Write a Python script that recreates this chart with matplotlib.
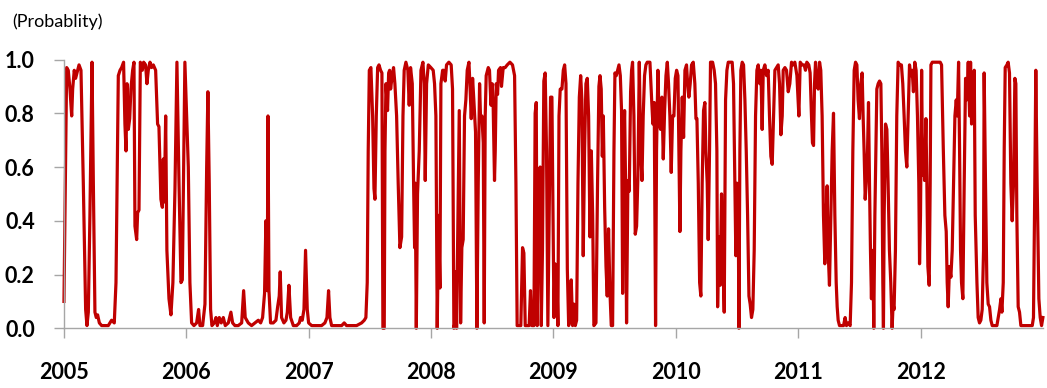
import numpy as np
import matplotlib.pyplot as plt

# ======================================
# DATA: (decimal year, probability), one list per year
# ======================================
y2005 = [(2005.000, 0.10), (2005.022, 0.97), (2005.035, 0.96), (2005.049, 0.89), (2005.063, 0.79),
         (2005.071, 0.89), (2005.084, 0.96), (2005.095, 0.93), (2005.106, 0.95), (2005.123, 0.98),
         (2005.139, 0.96), (2005.158, 0.54), (2005.177, 0.07), (2005.188, 0.01), (2005.199, 0.06),
         (2005.212, 0.42), (2005.229, 0.99), (2005.240, 0.54), (2005.253, 0.06), (2005.264, 0.04),
         (2005.275, 0.05), (2005.289, 0.02), (2005.308, 0.01), (2005.335, 0.01), (2005.362, 0.01),
         (2005.389, 0.03), (2005.411, 0.02), (2005.425, 0.17), (2005.444, 0.94), (2005.458, 0.96),
         (2005.471, 0.97), (2005.487, 0.99), (2005.498, 0.76), (2005.507, 0.66), (2005.515, 0.91),
         (2005.526, 0.74), (2005.537, 0.78), (2005.547, 0.89), (2005.561, 0.96), (2005.572, 0.99),
         (2005.580, 0.38), (2005.594, 0.33), (2005.602, 0.43), (2005.613, 0.44), (2005.624, 0.99),
         (2005.640, 0.96), (2005.651, 0.99), (2005.667, 0.98), (2005.678, 0.91), (2005.689, 0.96),
         (2005.703, 0.99), (2005.716, 0.97), (2005.730, 0.98), (2005.749, 0.96), (2005.765, 0.76),
         (2005.776, 0.75), (2005.792, 0.48), (2005.804, 0.45), (2005.812, 0.63), (2005.820, 0.47),
         (2005.831, 0.79), (2005.841, 0.29), (2005.858, 0.11), (2005.874, 0.05), (2005.890, 0.17),
         (2005.907, 0.52), (2005.923, 0.99), (2005.940, 0.54), (2005.956, 0.17), (2005.967, 0.18),
         (2005.988, 0.99)]

y2006 = [(2006.016, 0.60), (2006.029, 0.17), (2006.043, 0.02), (2006.062, 0.01), (2006.084, 0.02),
         (2006.100, 0.07), (2006.111, 0.01), (2006.133, 0.01), (2006.152, 0.09), (2006.166, 0.60),
         (2006.176, 0.88), (2006.187, 0.54), (2006.198, 0.07), (2006.209, 0.01), (2006.228, 0.02),
         (2006.242, 0.04), (2006.253, 0.01), (2006.269, 0.04), (2006.285, 0.02), (2006.302, 0.04),
         (2006.318, 0.01), (2006.343, 0.02), (2006.364, 0.06), (2006.378, 0.02), (2006.397, 0.01),
         (2006.424, 0.01), (2006.452, 0.02), (2006.468, 0.14), (2006.481, 0.04), (2006.506, 0.02),
         (2006.533, 0.01), (2006.560, 0.02), (2006.588, 0.03), (2006.607, 0.02), (2006.623, 0.04),
         (2006.639, 0.13), (2006.650, 0.40), (2006.661, 0.14), (2006.667, 0.79), (2006.675, 0.14),
         (2006.688, 0.02), (2006.710, 0.02), (2006.732, 0.03), (2006.746, 0.08), (2006.759, 0.12),
         (2006.767, 0.21), (2006.778, 0.04), (2006.797, 0.02), (2006.814, 0.03), (2006.825, 0.06),
         (2006.838, 0.16), (2006.852, 0.04), (2006.874, 0.01), (2006.901, 0.01), (2006.923, 0.02),
         (2006.933, 0.04), (2006.947, 0.03), (2006.961, 0.07), (2006.974, 0.29), (2006.988, 0.07),
         (2006.999, 0.02)]

y2007 = [(2007.024, 0.01), (2007.051, 0.01), (2007.078, 0.01), (2007.105, 0.01), (2007.132, 0.02),
         (2007.149, 0.04), (2007.162, 0.14), (2007.173, 0.04), (2007.187, 0.01), (2007.228, 0.01),
         (2007.269, 0.01), (2007.290, 0.02), (2007.309, 0.01), (2007.350, 0.01), (2007.391, 0.01),
         (2007.432, 0.02), (2007.454, 0.03), (2007.467, 0.04), (2007.478, 0.17), (2007.486, 0.66),
         (2007.495, 0.96), (2007.508, 0.97), (2007.522, 0.79), (2007.533, 0.52), (2007.541, 0.48),
         (2007.552, 0.79), (2007.563, 0.97), (2007.574, 0.98), (2007.587, 0.96), (2007.598, 0.95),
         (2007.606, 0.00), (2007.617, 0.00), (2007.623, 0.66), (2007.631, 0.91), (2007.644, 0.81),
         (2007.653, 0.95), (2007.661, 0.96), (2007.669, 0.89), (2007.682, 0.94), (2007.693, 0.97),
         (2007.704, 0.91), (2007.718, 0.79), (2007.731, 0.54), (2007.745, 0.30), (2007.759, 0.34),
         (2007.770, 0.79), (2007.780, 0.96), (2007.794, 0.99), (2007.810, 0.96), (2007.821, 0.83),
         (2007.832, 0.97), (2007.846, 0.91), (2007.857, 0.53), (2007.865, 0.30), (2007.870, 0.54),
         (2007.879, 0.00), (2007.889, 0.50), (2007.903, 0.66), (2007.917, 0.96), (2007.933, 0.99),
         (2007.944, 0.91), (2007.952, 0.55), (2007.963, 0.91), (2007.977, 0.98), (2007.998, 0.97)]

y2008 = [(2008.017, 0.96), (2008.028, 0.91), (2008.039, 0.79), (2008.050, 0.00), (2008.061, 0.42),
         (2008.072, 0.15), (2008.080, 0.91), (2008.094, 0.96), (2008.104, 0.96), (2008.115, 0.92),
         (2008.126, 0.98), (2008.145, 0.99), (2008.164, 0.98), (2008.175, 0.89), (2008.186, 0.00),
         (2008.194, 0.02), (2008.202, 0.21), (2008.208, 0.00), (2008.219, 0.42), (2008.230, 0.81),
         (2008.241, 0.02), (2008.251, 0.30), (2008.262, 0.33), (2008.273, 0.79), (2008.284, 0.85),
         (2008.295, 0.96), (2008.309, 0.99), (2008.317, 0.91), (2008.328, 0.78), (2008.339, 0.93),
         (2008.349, 0.85), (2008.363, 0.73), (2008.374, 0.00), (2008.385, 0.54), (2008.396, 0.91),
         (2008.404, 0.78), (2008.415, 0.79), (2008.426, 0.69), (2008.434, 0.02), (2008.442, 0.79),
         (2008.450, 0.94), (2008.467, 0.97), (2008.477, 0.96), (2008.489, 0.83), (2008.499, 0.91),
         (2008.507, 0.83), (2008.518, 0.55), (2008.524, 0.66), (2008.532, 0.91), (2008.543, 0.87),
         (2008.551, 0.96), (2008.567, 0.97), (2008.575, 0.90), (2008.589, 0.97), (2008.605, 0.97),
         (2008.622, 0.98), (2008.644, 0.99), (2008.665, 0.98), (2008.682, 0.94), (2008.693, 0.54),
         (2008.703, 0.01), (2008.720, 0.01), (2008.733, 0.01), (2008.747, 0.30), (2008.758, 0.28),
         (2008.769, 0.01), (2008.785, 0.01), (2008.801, 0.01), (2008.812, 0.14), (2008.823, 0.01),
         (2008.840, 0.01), (2008.850, 0.80), (2008.859, 0.84), (2008.867, 0.01), (2008.880, 0.48),
         (2008.891, 0.60), (2008.900, 0.01), (2008.910, 0.29), (2008.921, 0.92), (2008.932, 0.95),
         (2008.943, 0.66), (2008.954, 0.01), (2008.965, 0.42), (2008.976, 0.86), (2008.987, 0.86)]

y2009 = [(2009.004, 0.04), (2009.012, 0.24), (2009.026, 0.23), (2009.036, 0.01), (2009.045, 0.79),
         (2009.055, 0.89), (2009.069, 0.89), (2009.080, 0.96), (2009.091, 0.98), (2009.102, 0.91),
         (2009.113, 0.22), (2009.124, 0.01), (2009.134, 0.03), (2009.145, 0.18), (2009.156, 0.01),
         (2009.167, 0.09), (2009.178, 0.01), (2009.189, 0.03), (2009.200, 0.54), (2009.211, 0.86),
         (2009.222, 0.94), (2009.232, 0.85), (2009.243, 0.27), (2009.254, 0.66), (2009.265, 0.91),
         (2009.276, 0.93), (2009.287, 0.79), (2009.298, 0.34), (2009.309, 0.66), (2009.320, 0.42),
         (2009.330, 0.01), (2009.347, 0.02), (2009.360, 0.54), (2009.371, 0.90), (2009.380, 0.94),
         (2009.390, 0.89), (2009.399, 0.64), (2009.407, 0.79), (2009.418, 0.45), (2009.429, 0.23),
         (2009.439, 0.12), (2009.450, 0.37), (2009.461, 0.14), (2009.472, 0.01), (2009.483, 0.01),
         (2009.494, 0.66), (2009.502, 0.95), (2009.513, 0.94), (2009.524, 0.96), (2009.535, 0.98),
         (2009.546, 0.94), (2009.556, 0.81), (2009.565, 0.13), (2009.573, 0.66), (2009.581, 0.81),
         (2009.589, 0.54), (2009.597, 0.02), (2009.608, 0.55), (2009.619, 0.51), (2009.630, 0.88),
         (2009.638, 0.96), (2009.646, 0.99), (2009.657, 0.79), (2009.668, 0.35), (2009.679, 0.38),
         (2009.690, 0.57), (2009.701, 0.99), (2009.712, 0.66), (2009.723, 0.55), (2009.733, 0.79),
         (2009.744, 0.94), (2009.755, 0.98), (2009.766, 0.99), (2009.788, 0.99), (2009.802, 0.85),
         (2009.812, 0.76), (2009.823, 0.84), (2009.834, 0.01), (2009.842, 0.66), (2009.853, 0.96),
         (2009.864, 0.76), (2009.875, 0.74), (2009.886, 0.86), (2009.897, 0.63), (2009.908, 0.81),
         (2009.919, 0.94), (2009.930, 0.99), (2009.940, 0.91), (2009.951, 0.79), (2009.962, 0.58),
         (2009.973, 0.79), (2009.984, 0.79), (2009.995, 0.93)]

y2010 = [(2010.006, 0.96), (2010.017, 0.94), (2010.033, 0.36), (2010.041, 0.66), (2010.052, 0.86),
         (2010.063, 0.71), (2010.074, 0.96), (2010.087, 0.98), (2010.096, 0.91), (2010.106, 0.86),
         (2010.117, 0.91), (2010.128, 0.98), (2010.142, 0.99), (2010.155, 0.91), (2010.164, 0.78),
         (2010.172, 0.78), (2010.183, 0.54), (2010.194, 0.17), (2010.204, 0.12), (2010.215, 0.54),
         (2010.226, 0.81), (2010.237, 0.84), (2010.245, 0.66), (2010.256, 0.54), (2010.264, 0.33),
         (2010.275, 0.66), (2010.283, 0.99), (2010.300, 0.99), (2010.313, 0.96), (2010.324, 0.91),
         (2010.335, 0.66), (2010.341, 0.08), (2010.351, 0.34), (2010.362, 0.16), (2010.373, 0.50),
         (2010.384, 0.29), (2010.395, 0.06), (2010.406, 0.85), (2010.417, 0.96), (2010.428, 0.99),
         (2010.444, 0.99), (2010.460, 0.99), (2010.471, 0.91), (2010.482, 0.54), (2010.490, 0.27),
         (2010.499, 0.54), (2010.509, 0.49), (2010.515, 0.00), (2010.523, 0.66), (2010.531, 0.96),
         (2010.542, 0.99), (2010.553, 0.98), (2010.564, 0.85), (2010.575, 0.66), (2010.586, 0.42),
         (2010.597, 0.12), (2010.607, 0.09), (2010.618, 0.04), (2010.629, 0.07), (2010.640, 0.29),
         (2010.651, 0.79), (2010.662, 0.96), (2010.673, 0.98), (2010.686, 0.91), (2010.695, 0.96),
         (2010.705, 0.74), (2010.714, 0.96), (2010.727, 0.98), (2010.741, 0.94), (2010.754, 0.96),
         (2010.765, 0.79), (2010.776, 0.64), (2010.787, 0.61), (2010.798, 0.79), (2010.809, 0.96),
         (2010.823, 0.97), (2010.836, 0.98), (2010.847, 0.91), (2010.858, 0.72), (2010.869, 0.79),
         (2010.877, 0.96), (2010.891, 0.97), (2010.904, 0.96), (2010.918, 0.88), (2010.931, 0.91),
         (2010.945, 0.99), (2010.959, 0.98), (2010.972, 0.99), (2010.989, 0.94)]

y2011 = [(2011.005, 0.79), (2011.016, 0.99), (2011.032, 0.98), (2011.048, 0.98), (2011.059, 0.96),
         (2011.070, 0.99), (2011.086, 0.98), (2011.097, 0.95), (2011.108, 0.79), (2011.116, 0.69),
         (2011.125, 0.68), (2011.133, 0.91), (2011.141, 0.99), (2011.152, 0.91), (2011.163, 0.89),
         (2011.174, 0.99), (2011.184, 0.96), (2011.195, 0.79), (2011.206, 0.42), (2011.217, 0.24),
         (2011.228, 0.42), (2011.236, 0.53), (2011.244, 0.29), (2011.255, 0.16), (2011.266, 0.42),
         (2011.277, 0.66), (2011.288, 0.80), (2011.299, 0.42), (2011.310, 0.17), (2011.318, 0.08),
         (2011.326, 0.03), (2011.337, 0.01), (2011.353, 0.01), (2011.370, 0.01), (2011.383, 0.04),
         (2011.394, 0.01), (2011.408, 0.02), (2011.424, 0.01), (2011.435, 0.17), (2011.446, 0.66),
         (2011.457, 0.96), (2011.468, 0.99), (2011.479, 0.98), (2011.489, 0.85), (2011.500, 0.78),
         (2011.511, 0.91), (2011.522, 0.95), (2011.530, 0.79), (2011.538, 0.66), (2011.547, 0.48),
         (2011.555, 0.54), (2011.566, 0.66), (2011.574, 0.84), (2011.582, 0.54), (2011.590, 0.29),
         (2011.598, 0.11), (2011.604, 0.29), (2011.612, 0.19), (2011.617, 0.00), (2011.626, 0.42),
         (2011.634, 0.66), (2011.642, 0.89), (2011.653, 0.91), (2011.664, 0.92), (2011.675, 0.91),
         (2011.683, 0.66), (2011.691, 0.17), (2011.696, 0.00), (2011.702, 0.42), (2011.713, 0.76),
         (2011.724, 0.74), (2011.734, 0.54), (2011.745, 0.29), (2011.756, 0.17), (2011.767, 0.00),
         (2011.775, 0.09), (2011.783, 0.07), (2011.794, 0.29), (2011.805, 0.79), (2011.816, 0.99),
         (2011.830, 0.98), (2011.843, 0.98), (2011.854, 0.91), (2011.865, 0.79), (2011.876, 0.66),
         (2011.887, 0.60), (2011.898, 0.79), (2011.909, 0.98), (2011.920, 0.94), (2011.931, 0.96),
         (2011.941, 0.88), (2011.952, 0.99), (2011.963, 0.96), (2011.974, 0.79), (2011.985, 0.54),
         (2011.991, 0.24), (2011.999, 0.42)]

y2012 = [(2012.008, 0.96), (2012.016, 0.57), (2012.024, 0.66), (2012.032, 0.55), (2012.043, 0.78),
         (2012.051, 0.54), (2012.059, 0.23), (2012.070, 0.16), (2012.078, 0.54), (2012.084, 0.98),
         (2012.095, 0.99), (2012.111, 0.99), (2012.127, 0.99), (2012.144, 0.99), (2012.160, 0.99),
         (2012.171, 0.98), (2012.185, 0.67), (2012.198, 0.42), (2012.209, 0.36), (2012.217, 0.17),
         (2012.225, 0.08), (2012.236, 0.23), (2012.247, 0.19), (2012.258, 0.29), (2012.269, 0.54),
         (2012.280, 0.79), (2012.291, 0.85), (2012.299, 0.79), (2012.310, 0.99), (2012.318, 0.67),
         (2012.326, 0.29), (2012.334, 0.17), (2012.345, 0.11), (2012.356, 0.54), (2012.367, 0.93),
         (2012.378, 0.85), (2012.389, 0.99), (2012.400, 0.79), (2012.408, 0.99), (2012.416, 0.76),
         (2012.427, 0.79), (2012.438, 0.96), (2012.446, 0.42), (2012.460, 0.17), (2012.470, 0.04),
         (2012.481, 0.02), (2012.492, 0.03), (2012.503, 0.07), (2012.514, 0.29), (2012.519, 0.95),
         (2012.530, 0.54), (2012.541, 0.17), (2012.552, 0.09), (2012.563, 0.08), (2012.574, 0.03),
         (2012.585, 0.01), (2012.607, 0.01), (2012.623, 0.01), (2012.634, 0.04), (2012.645, 0.07),
         (2012.656, 0.11), (2012.664, 0.06), (2012.675, 0.17), (2012.683, 0.67), (2012.691, 0.97),
         (2012.705, 0.98), (2012.715, 0.99), (2012.726, 0.95), (2012.737, 0.54), (2012.748, 0.40),
         (2012.759, 0.54), (2012.770, 0.93), (2012.778, 0.91), (2012.786, 0.42), (2012.797, 0.08),
         (2012.808, 0.06), (2012.819, 0.01), (2012.838, 0.01), (2012.865, 0.01), (2012.892, 0.01),
         (2012.912, 0.01), (2012.922, 0.04), (2012.933, 0.54), (2012.941, 0.96), (2012.952, 0.54),
         (2012.966, 0.11), (2012.977, 0.04), (2012.988, 0.01), (2012.999, 0.04)]

years = [2005, 2006, 2007, 2008, 2009, 2010, 2011, 2012]
yticks = [0.0, 0.2, 0.4, 0.6, 0.8, 1.0]

# ======================================
# PLOT
# ======================================
data = np.array(y2005 + y2006 + y2007 + y2008 + y2009 + y2010 + y2011 + y2012)
t, prob = data[:, 0], data[:, 1]

fig = plt.figure(figsize=(10.47, 3.88), dpi=100)
ax = fig.add_axes([0.0611, 0.1539, 0.9351, 0.6927])

ax.plot(t, prob, color='#C00000', lw=2.3, clip_on=False, solid_joinstyle='round')

ax.set_xlim(2005, 2013)
ax.set_ylim(0, 1.0)
ax.set_xticks(years)
ax.set_xticklabels([str(y) for y in years])
ax.set_yticks(yticks)
ax.set_yticklabels([f"{v:.1f}" for v in yticks])

for s in ['top', 'right']:
    ax.spines[s].set_visible(False)
for s in ['left', 'bottom']:
    ax.spines[s].set_color('#a6a6a6')
    ax.spines[s].set_linewidth(1.0)

ax.tick_params(axis='both', colors='#a6a6a6', length=7, width=1.0)
ax.tick_params(axis='x', pad=17, labelcolor='black')
ax.tick_params(axis='y', pad=14, labelcolor='black')
for lab in ax.get_xticklabels() + ax.get_yticklabels():
    lab.set_fontfamily('Lato')
    lab.set_fontweight('bold')
    lab.set_fontsize(15.5)

fig.text(0.0115, 0.943, '(Probablity)', fontsize=13, family='Lato', va='center', ha='left')

plt.savefig('out.png', dpi=100)
